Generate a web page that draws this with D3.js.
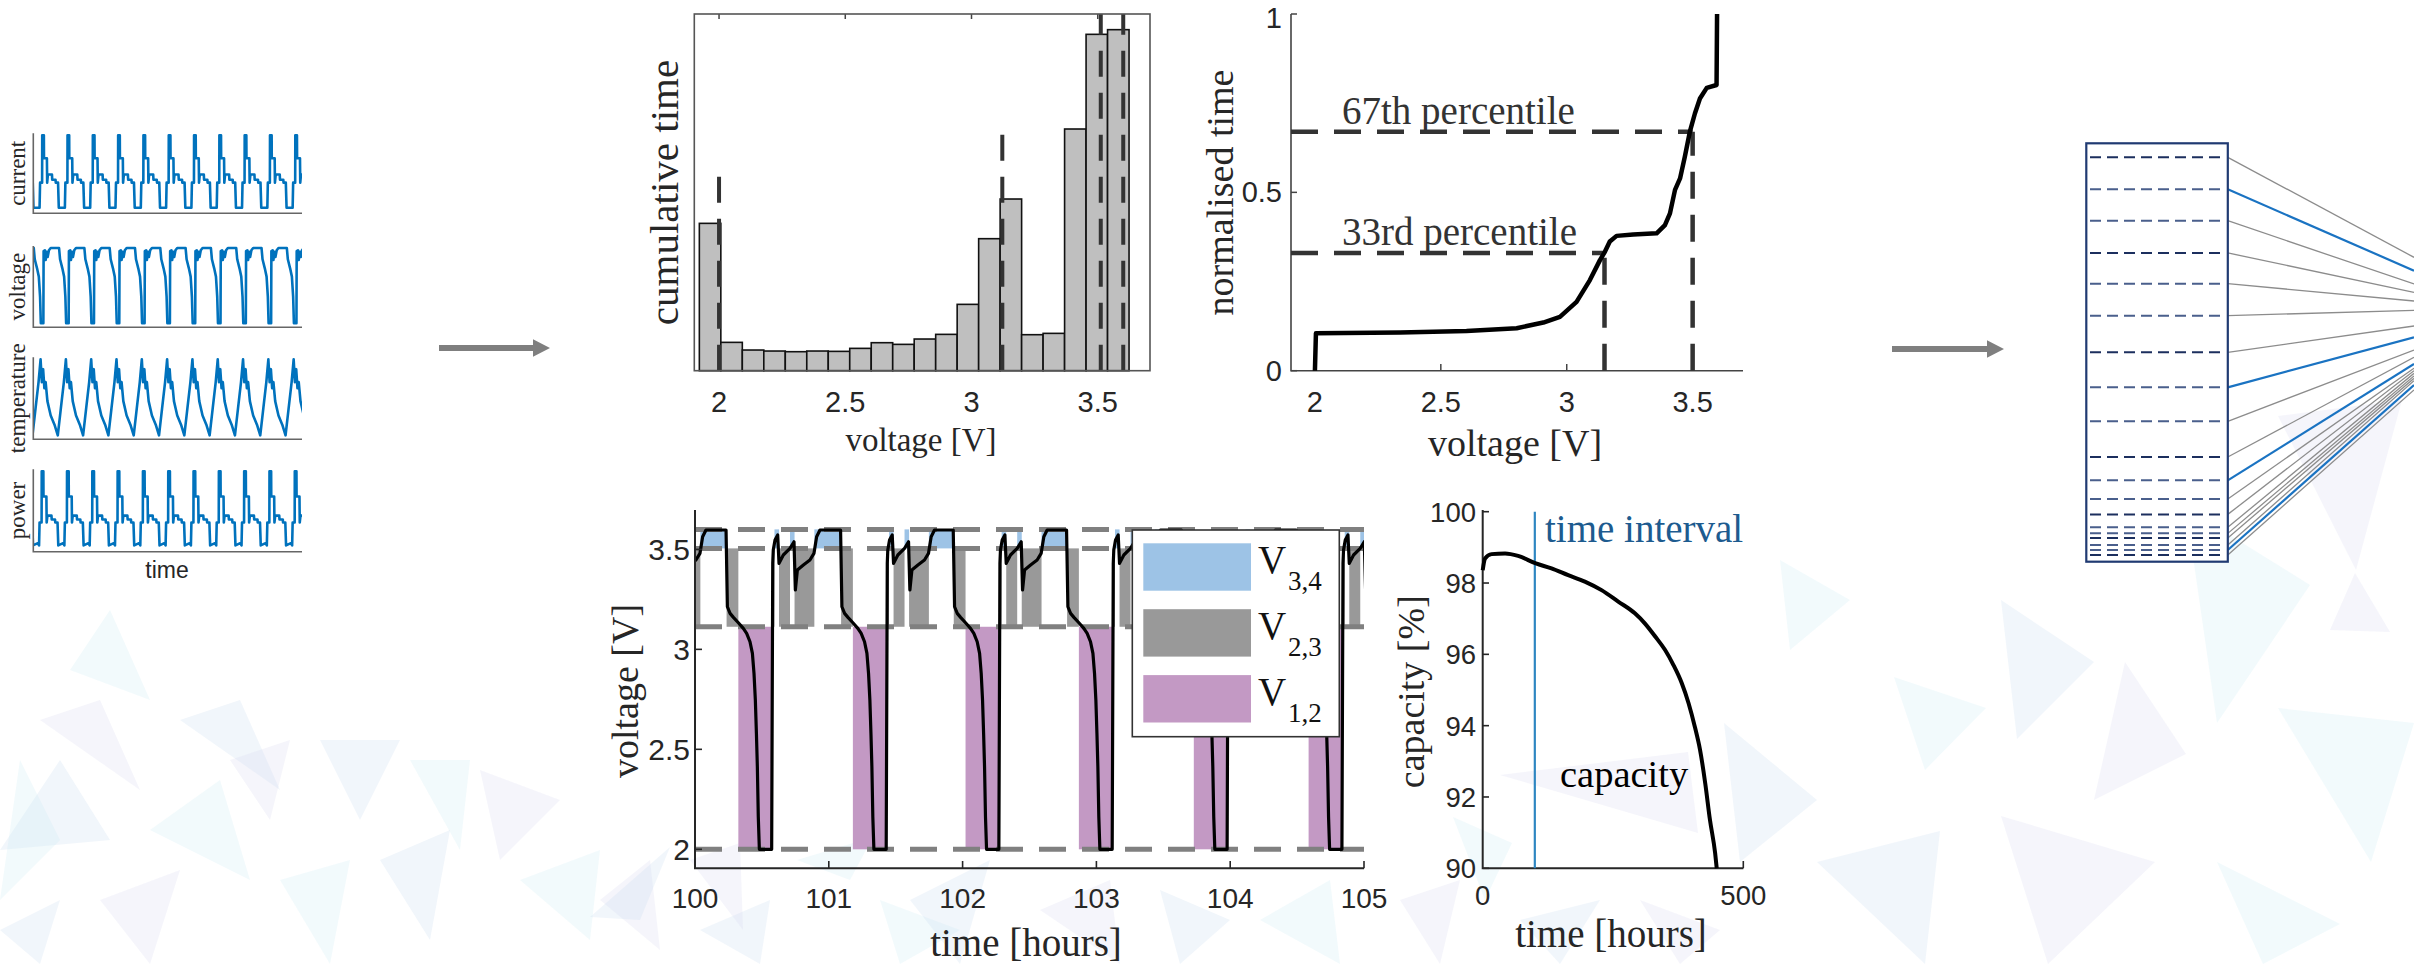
<!DOCTYPE html>
<html>
<head>
<meta charset="utf-8">
<script src="https://cdn.jsdelivr.net/npm/d3@7"></script>
<style>
  body { margin: 0; background: #fff; }
  svg { display: block; }
</style>
</head>
<body>
<svg id="fig" width="2414" height="964"></svg>
<script>
// ---------------- data ----------------

// raw signals (one cycle each, level 0..1), offset of the first cycle, number of cycles shown
const signalNames = ["current", "voltage", "temperature", "power"];
const currentPhase = [0, 0.02, 0.10, 0.105, 0.17, 0.175, 0.29, 0.30, 0.33, 0.49, 0.50, 0.63, 0.64, 0.73, 0.76, 1];
const currentLevel = [0.02, 0.36, 0.36, 1.0, 1.0, 0.69, 0.69, 0.36, 0.47, 0.47, 0.40, 0.40, 0.36, 0.36, 0.02, 0.02];
const voltagePhase = [0, 0.01, 0.06, 0.09, 0.13, 0.17, 0.22, 0.29, 0.62, 0.66, 0.75, 0.82, 0.87, 0.90, 1];
const voltageLevel = [0, 0.96, 0.97, 0.84, 0.95, 0.88, 0.97, 1, 1, 0.85, 0.73, 0.62, 0.35, 0, 0];
const temperaturePhase = [0, 0.05, 0.10, 0.15, 0.20, 0.27, 0.40, 0.55, 0.68, 0.80, 0.92, 1];
const temperatureLevel = [1, 0.70, 0.87, 0.62, 0.70, 0.45, 0.26, 0.14, 0, 0.35, 0.70, 1];
const powerPhase = [0, 0.02, 0.10, 0.105, 0.17, 0.175, 0.29, 0.30, 0.33, 0.49, 0.50, 0.63, 0.64, 0.73, 0.76, 0.95, 1];
const powerLevel = [0.03, 0.33, 0.33, 1.0, 1.0, 0.67, 0.67, 0.33, 0.42, 0.42, 0.37, 0.37, 0.33, 0.33, 0.03, 0.06, 0.03];
const signalOffset = [0.22, 0.37, 0.26, 0.20];
const signalSpan = 10.55;

// histogram of voltage
const binStart = 1.922;
const binWidth = 0.0851;
const binTime = [442, 85, 62, 59, 57, 59, 58, 67, 84, 79, 95, 109, 199, 396, 515, 108, 112, 725, 1009, 1023];
const histMarkVolt = [2.0, 3.122, 3.512, 3.601];
const histMarkTop = [587, 722, 1070, 1070];
const voltTicks = [2, 2.5, 3, 3.5];

// cumulative distribution
const cdfVolt = [2.0, 2.004, 2.338, 2.602, 2.801, 2.907, 2.973, 3.039, 3.092, 3.132, 3.152, 3.171, 3.198, 3.264, 3.357, 3.39, 3.41, 3.43, 3.45, 3.469, 3.489, 3.509, 3.529, 3.556, 3.595, 3.597];
const cdfTime = [0, 0.105, 0.107, 0.111, 0.119, 0.135, 0.151, 0.193, 0.254, 0.31, 0.334, 0.362, 0.378, 0.382, 0.385, 0.408, 0.441, 0.507, 0.539, 0.6, 0.67, 0.721, 0.763, 0.793, 0.801, 1.0];
const pctNames = ["33rd percentile", "67th percentile"];
const pctLevel = [0.33, 0.67];
const pctVolt = [3.15, 3.50];

// voltage trace 100-105 h: start of each discharge, and one cycle (hours after the start, volts)
const cycleDrops = [99.38, 100.232, 101.088, 101.93, 102.777, 103.636, 104.494];
const tracePhase = [0, 0.010, 0.030, 0.055, 0.092, 0.129, 0.154, 0.179, 0.197, 0.209, 0.219, 0.227, 0.234, 0.241, 0.249, 0.341, 0.349, 0.353, 0.366, 0.386, 0.396, 0.428, 0.478, 0.508, 0.518, 0.533, 0.578, 0.627, 0.657, 0.677, 0.702, 0.856];
const traceVolt = [3.597, 3.213, 3.18, 3.16, 3.133, 3.105, 3.08, 3.038, 2.98, 2.88, 2.747, 2.58, 2.413, 2.163, 2.0, 2.0, 3.43, 3.497, 3.547, 3.572, 3.43, 3.472, 3.505, 3.538, 3.297, 3.397, 3.422, 3.447, 3.48, 3.563, 3.597, 3.597];
const levelVolt = [2.0, 3.113, 3.505, 3.60];
const bandNames = ["V34", "V23", "V12"];
const bandLow = [3.505, 3.113, 2.0];
const bandHigh = [3.60, 3.505, 3.113];
const bandSub = ["3,4", "2,3", "1,2"];
const spanStart = [0.004, 0.092, 0.345, 0.362, 0.396, 0.478, 0.512, 0.66];
const spanEnd = [0.092, 0.345, 0.362, 0.396, 0.478, 0.512, 0.66, 0.856];
const spanBand = [1, 2, 1, 0, 1, 0, 1, 0];
const hourTicks = [100, 101, 102, 103, 104, 105];
const traceVoltTicks = [2, 2.5, 3, 3.5];

// capacity fade
const capTime = [0, 4.5, 17, 43, 68, 102, 132, 164, 196, 228, 260, 292, 311, 331, 350, 366, 382, 395, 407, 417, 427, 436, 446, 449];
const capValue = [98.36, 98.69, 98.81, 98.83, 98.76, 98.55, 98.41, 98.22, 98.04, 97.80, 97.48, 97.15, 96.87, 96.50, 96.12, 95.70, 95.19, 94.63, 93.97, 93.32, 92.38, 91.36, 90.42, 90.0];
const capTicks = [90, 92, 94, 96, 98, 100];
const intervalTime = 100;

// feature column: bin edges (fraction of column) and where each link ends
const featureEdges = [0.0335, 0.110, 0.185, 0.262, 0.3355, 0.412, 0.4996, 0.5833, 0.6645, 0.7498, 0.8056, 0.8502, 0.8869, 0.9179, 0.9323, 0.9434, 0.9602, 0.9721, 0.9841];
const linkEnds = [0.2725, 0.3044, 0.3363, 0.3562, 0.3769, 0.3992, 0.4367, 0.4637, 0.494, 0.5116, 0.5275, 0.5378, 0.5434, 0.5498, 0.5562, 0.5618, 0.5673, 0.5777, 0.5896];
const linkBlue = [1, 7, 10, 17];

// faint background triangles
const bgColors = ["#c8dcf0", "#cceaf2", "#d8d8f0", "#dddddd"];
const bgTriangles = [
  [0, 850, 60, 760, 110, 840, 0], [70, 670, 110, 610, 150, 700, 1], [40, 720, 100, 700, 140, 790, 2],
  [20, 760, 60, 840, 0, 900, 1], [180, 720, 240, 700, 280, 790, 0], [230, 760, 290, 740, 270, 820, 2],
  [150, 830, 220, 780, 250, 880, 1], [320, 740, 400, 740, 360, 820, 0], [410, 760, 470, 760, 460, 850, 1],
  [480, 770, 560, 800, 500, 860, 2], [380, 860, 450, 830, 430, 940, 0], [280, 880, 350, 860, 330, 964, 1],
  [100, 900, 180, 870, 150, 964, 2], [520, 880, 600, 850, 590, 940, 1], [0, 930, 60, 900, 40, 964, 0],
  [600, 900, 650, 860, 660, 950, 2], [700, 930, 770, 900, 760, 964, 0], [880, 900, 960, 930, 900, 964, 1],
  [1040, 910, 1110, 880, 1120, 964, 2], [1160, 890, 1230, 920, 1180, 964, 0], [1260, 920, 1330, 880, 1340, 964, 1],
  [1400, 900, 1460, 880, 1440, 964, 2], [590, 917, 670, 847, 640, 920, 0], [690, 860, 740, 843, 743, 930, 2],
  [797, 860, 873, 837, 850, 880, 1], [910, 900, 990, 860, 960, 964, 0], [1500, 775, 1688, 752, 1698, 833, 2],
  [1453, 817, 1512, 843, 1485, 900, 1], [1520, 920, 1600, 900, 1560, 964, 0], [1640, 900, 1720, 930, 1680, 964, 2],
  [2278, 416, 2402, 400, 2356, 570, 2], [2186, 508, 2310, 585, 2217, 723, 1], [2001, 600, 2094, 662, 2017, 739, 0],
  [1894, 677, 1986, 708, 1925, 770, 1], [2125, 662, 2186, 754, 2094, 800, 2], [1724, 723, 1817, 800, 1740, 862, 0],
  [2278, 708, 2414, 723, 2371, 862, 1], [2001, 816, 2155, 862, 2048, 964, 2], [1817, 862, 1940, 831, 1925, 964, 0],
  [2217, 862, 2340, 924, 2263, 964, 1], [2330, 630, 2355, 573, 2390, 632, 2], [1780, 560, 1850, 600, 1790, 650, 1]
];

// ---------------- drawing ----------------
const svg = d3.select("#fig");
const serif = '"Liberation Serif", "Times New Roman", serif';
const sans = '"Liberation Sans", Arial, sans-serif';
const ink = "#262626";

function text(g, str, x, y, size, family, anchor, fill) {
  return g.append("text").attr("x", x).attr("y", y)
    .attr("text-anchor", anchor || "middle")
    .style("font-family", family).style("font-size", size + "px")
    .attr("fill", fill || ink).text(str);
}
function vtext(g, str, x, y, size) {
  return g.append("text").attr("transform", `translate(${x},${y}) rotate(-90)`)
    .attr("text-anchor", "middle").style("font-family", serif).style("font-size", size + "px")
    .attr("fill", ink).text(str);
}
const defs = svg.append("defs");
function clip(id, x, y, w, h) {
  defs.append("clipPath").attr("id", id).append("rect").attr("x", x).attr("y", y).attr("width", w).attr("height", h);
  return `url(#${id})`;
}

// background
svg.append("g").selectAll("polygon").data(bgTriangles).join("polygon")
  .attr("points", d => `${d[0]},${d[1]} ${d[2]},${d[3]} ${d[4]},${d[5]}`)
  .attr("fill", d => bgColors[d[6]]).attr("opacity", 0.26);

// ---- left: raw signals ----
const signalPhase = [currentPhase, voltagePhase, temperaturePhase, powerPhase];
const signalLevel = [currentLevel, voltageLevel, temperatureLevel, powerLevel];
const rows = [[133.3, 213.3], [246, 327.3], [357.3, 439.3], [469.3, 551.7]];
const sx = d3.scaleLinear().domain([0, signalSpan]).range([34, 301]);
const left = svg.append("g");

signalNames.forEach((name, i) => {
  const [top, bot] = rows[i];
  const sy = d3.scaleLinear().domain([0, 1]).range([bot - 4, top + 2]);
  const pts = [];
  for (let k = -1; k <= Math.ceil(signalSpan); k++) {
    signalPhase[i].forEach((p, j) => pts.push([signalOffset[i] + k - 1 + p, signalLevel[i][j]]));
  }
  left.append("path")
    .attr("clip-path", clip("sig" + i, 34, top - 2, 268, bot - top + 2))
    .attr("d", d3.line().x(d => sx(d[0])).y(d => sy(d[1]))(pts))
    .attr("fill", "none").attr("stroke", "#0072bd").attr("stroke-width", 2.6)
    .attr("stroke-linejoin", "round");
  left.append("path").attr("d", `M33.3,${top}V${bot}H302`)
    .attr("fill", "none").attr("stroke", "#666").attr("stroke-width", 1.6);
  vtext(left, name, 25, (top + bot) / 2, 23);
});
text(left, "time", 167, 578, 23, sans);

// ---- arrows ----
const arrows = [[439, 550, 348], [1892, 2004, 349]];
svg.append("g").selectAll("path").data(arrows).join("path")
  .attr("d", d => `M${d[0]},${d[2] - 3}H${d[1] - 17}V${d[2] - 8.7}L${d[1]},${d[2]}L${d[1] - 17},${d[2] + 8.7}V${d[2] + 3}H${d[0]}Z`)
  .attr("fill", "#7f7f7f");

// ---- histogram ----
const hist = svg.append("g");
const hx = d3.scaleLinear().domain([1.902, 3.707]).range([694.3, 1150]);
const hy = d3.scaleLinear().domain([0, 1070]).range([370.7, 14]);

hist.selectAll(".tk").data(voltTicks).join("path")
  .attr("d", d => `M${hx(d)},14v5M${hx(d)},370.7v-5`)
  .attr("stroke", "#444").attr("stroke-width", 1.5);
hist.selectAll(".bar").data(binTime).join("rect")
  .attr("x", (d, i) => hx(binStart + i * binWidth))
  .attr("width", hx(binStart + binWidth) - hx(binStart))
  .attr("y", d => hy(d)).attr("height", d => hy(0) - hy(d))
  .attr("fill", "#bfbfbf").attr("stroke", "#111").attr("stroke-width", 1.6);
hist.selectAll(".mark").data(histMarkVolt).join("line")
  .attr("x1", d => hx(d)).attr("x2", d => hx(d))
  .attr("y1", hy(0)).attr("y2", (d, i) => hy(histMarkTop[i]))
  .attr("stroke", "#333").attr("stroke-width", 4).attr("stroke-dasharray", "26,16");
hist.append("rect").attr("x", 694.3).attr("y", 14).attr("width", 1150 - 694.3).attr("height", 370.7 - 14)
  .attr("fill", "none").attr("stroke", "#555").attr("stroke-width", 1.6);
voltTicks.forEach(v => text(hist, String(v), hx(v), 412, 29, sans));
text(hist, "voltage [V]", 921, 451, 33, serif);
vtext(hist, "cumulative time", 678, 192.5, 41);

// ---- cumulative distribution ----
const cdf = svg.append("g");
const cx = d3.scaleLinear().domain([1.905, 3.70]).range([1291, 1743]);
const cy = d3.scaleLinear().domain([0, 1]).range([370.7, 14]);

cdf.append("path").attr("d", `M1291,14V370.7H1743`).attr("fill", "none").attr("stroke", "#444").attr("stroke-width", 1.6);
cdf.selectAll(".xt").data(voltTicks).join("line")
  .attr("x1", d => cx(d)).attr("x2", d => cx(d)).attr("y1", 370.7).attr("y2", 364)
  .attr("stroke", "#444").attr("stroke-width", 1.5);
cdf.selectAll(".yt").data([0, 0.5, 1]).join("line")
  .attr("x1", 1291).attr("x2", 1297).attr("y1", d => cy(d)).attr("y2", d => cy(d))
  .attr("stroke", "#444").attr("stroke-width", 1.5);
voltTicks.forEach(v => text(cdf, String(v), cx(v), 412, 29, sans));
[0, 0.5, 1].forEach(v => text(cdf, String(v), 1282, Math.max(cy(v) + 10, 28), 29, sans, "end"));

pctLevel.forEach((p, i) => {
  cdf.append("path").attr("d", `M${cx.range()[0]},${cy(p)}H${cx(pctVolt[i])}`)
    .attr("stroke", "#333").attr("stroke-width", 4.5).attr("stroke-dasharray", "27,16").attr("fill", "none");
  cdf.append("path").attr("d", `M${cx(pctVolt[i])},${cy(0)}V${cy(p)}`)
    .attr("stroke", "#333").attr("stroke-width", 4.5).attr("stroke-dasharray", "27,16").attr("fill", "none");
  text(cdf, pctNames[i], 1342, cy(p) - 8, 39, serif, "start", "#333");
});
cdf.append("path")
  .attr("d", d3.line().x((d, i) => cx(cdfVolt[i])).y(d => cy(d))(cdfTime))
  .attr("fill", "none").attr("stroke", "#000").attr("stroke-width", 4.5).attr("stroke-linejoin", "round");
text(cdf, "voltage [V]", 1515, 456, 38, serif);
vtext(cdf, "normalised time", 1233, 192.5, 38);

// ---- voltage trace with bands ----
const tr = svg.append("g");
const tx = d3.scaleLinear().domain([100, 105]).range([695, 1364]);
const ty = d3.scaleLinear().domain([1.905, 3.697]).range([868.3, 510]);
const bandFill = ["#9dc3e6", "#999999", "#c399c4"];

const spans = [];
cycleDrops.forEach((d, c) => {
  const next = c + 1 < cycleDrops.length ? cycleDrops[c + 1] : 106;
  spanStart.forEach((s, j) => {
    const a = Math.max(100, d + s), b = Math.min(105, d + spanEnd[j], next);
    if (b > a) spans.push({ a, b, band: spanBand[j] });
  });
});
tr.selectAll(".band").data(spans).join("rect")
  .attr("x", d => tx(d.a)).attr("width", d => tx(d.b) - tx(d.a))
  .attr("y", d => ty(bandHigh[d.band])).attr("height", d => ty(bandLow[d.band]) - ty(bandHigh[d.band]))
  .attr("fill", d => bandFill[d.band]);
tr.selectAll(".lvl").data(levelVolt).join("line")
  .attr("x1", tx(100)).attr("x2", tx(105)).attr("y1", d => ty(d)).attr("y2", d => ty(d))
  .attr("stroke", "#808080").attr("stroke-width", 5).attr("stroke-dasharray", "27,16");

const trace = [];
cycleDrops.forEach((d, c) => {
  const next = c + 1 < cycleDrops.length ? cycleDrops[c + 1] : 106;
  tracePhase.forEach((p, j) => { if (d + p < next) trace.push([d + p, traceVolt[j]]); });
});
tr.append("path")
  .attr("clip-path", clip("trc", tx(100), 500, tx(105) - tx(100), 380))
  .attr("d", d3.line().x(d => tx(d[0])).y(d => ty(d[1]))(trace))
  .attr("fill", "none").attr("stroke", "#000").attr("stroke-width", 3.2).attr("stroke-linejoin", "round");

tr.append("path").attr("d", `M695,510V868.3H1364`).attr("fill", "none").attr("stroke", ink).attr("stroke-width", 2);
tr.selectAll(".xt").data(hourTicks).join("line")
  .attr("x1", d => tx(d)).attr("x2", d => tx(d)).attr("y1", 868.3).attr("y2", 861)
  .attr("stroke", ink).attr("stroke-width", 1.6);
tr.selectAll(".yt").data(traceVoltTicks).join("line")
  .attr("x1", 695).attr("x2", 702).attr("y1", d => ty(d)).attr("y2", d => ty(d))
  .attr("stroke", ink).attr("stroke-width", 1.6);
hourTicks.forEach(h => text(tr, String(h), tx(h), 908, 28, sans));
traceVoltTicks.forEach(v => text(tr, String(v), 690, ty(v) + 10.5, 30, sans, "end"));
text(tr, "time [hours]", 1026, 956, 39, serif);
vtext(tr, "voltage [V]", 638, 691, 38);

// legend
const lg = tr.append("g");
lg.append("rect").attr("x", 1132.3).attr("y", 530).attr("width", 207).attr("height", 206.7)
  .attr("fill", "#fff").attr("stroke", "#333").attr("stroke-width", 1.6);
bandNames.forEach((n, i) => {
  const yc = 567 + i * 65.9;
  lg.append("rect").attr("x", 1143.3).attr("y", yc - 23.7).attr("width", 107.7).attr("height", 47.4)
    .attr("fill", bandFill[i]);
  text(lg, "V", 1258, yc + 6, 39, serif, "start", "#111");
  text(lg, bandSub[i], 1288, yc + 23, 27, serif, "start", "#111");
});

// ---- capacity ----
const cap = svg.append("g");
const kx = d3.scaleLinear().domain([0, 500]).range([1482.7, 1743.3]);
const ky = d3.scaleLinear().domain([90, 100]).range([868.3, 511.7]);

cap.append("path").attr("d", `M1482.7,510V868.3H1743.3`).attr("fill", "none").attr("stroke", ink).attr("stroke-width", 2);
cap.selectAll(".yt").data(capTicks).join("line")
  .attr("x1", 1482.7).attr("x2", 1489).attr("y1", d => ky(d)).attr("y2", d => ky(d))
  .attr("stroke", ink).attr("stroke-width", 1.6);
cap.append("line").attr("x1", kx(500)).attr("x2", kx(500)).attr("y1", 868.3).attr("y2", 861)
  .attr("stroke", ink).attr("stroke-width", 1.6);
capTicks.forEach(v => text(cap, String(v), 1476, ky(v) + 10, 27.5, sans, "end"));
[0, 500].forEach(v => text(cap, String(v), kx(v), 905, 27.5, sans));
cap.append("line").attr("x1", kx(intervalTime)).attr("x2", kx(intervalTime))
  .attr("y1", ky(90)).attr("y2", ky(100)).attr("stroke", "#2e86c1").attr("stroke-width", 2.2);
cap.append("path")
  .attr("d", d3.line().curve(d3.curveMonotoneX).x((d, i) => kx(capTime[i])).y(d => ky(d))(capValue))
  .attr("fill", "none").attr("stroke", "#000").attr("stroke-width", 4);
text(cap, "time interval", 1545, 541.7, 39, serif, "start", "#1d5b8f");
text(cap, "capacity", 1560, 786.7, 38.5, serif, "start", "#000");
text(cap, "time [hours]", 1611, 946.7, 39, serif);
vtext(cap, "capacity [%]", 1424, 691.7, 38);

// ---- feature column with links ----
const col = svg.append("g");
const fy = d3.scaleLinear().domain([0, 1]).range([143.3, 561.7]);
col.append("rect").attr("x", 2086.3).attr("y", 143.3).attr("width", 2227.8 - 2086.3).attr("height", 561.7 - 143.3)
  .attr("fill", "#fff");
col.selectAll(".link").data(featureEdges).join("line")
  .attr("x1", 2227.8).attr("y1", d => fy(d))
  .attr("x2", 2414).attr("y2", (d, i) => fy(linkEnds[i]))
  .attr("stroke", (d, i) => linkBlue.includes(i) ? "#1a73c2" : "#8c8c8c")
  .attr("stroke-width", (d, i) => linkBlue.includes(i) ? 2.2 : 1.3);
col.selectAll(".edge").data(featureEdges).join("line")
  .attr("x1", 2090).attr("x2", 2224).attr("y1", d => fy(d)).attr("y2", d => fy(d))
  .attr("stroke", (d, i) => i % 3 === 0 ? "#1c2f5e" : "#4a5f8c").attr("stroke-width", 2)
  .attr("stroke-dasharray", "11,6");
col.append("rect").attr("x", 2086.3).attr("y", 143.3).attr("width", 2227.8 - 2086.3).attr("height", 561.7 - 143.3)
  .attr("fill", "none").attr("stroke", "#203a72").attr("stroke-width", 2.2);
</script>
</body>
</html>
